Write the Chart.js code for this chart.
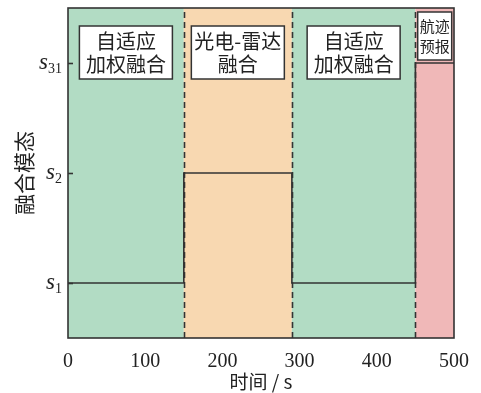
<!DOCTYPE html>
<html>
<head>
<meta charset="utf-8">
<script src="https://cdn.jsdelivr.net/npm/chart.js@4/dist/chart.umd.min.js"></script>
<style>
  html, body { margin: 0; padding: 0; background: #fff; }
  #wrap { width: 481px; height: 393px; }
</style>
</head>
<body>
<div id="wrap"><canvas id="myChart"></canvas></div>
<script>
// step data: mode held from each time until the next one
var times = [0, 150, 290, 450, 500];
var modes = [1, 2, 1, 3, 3];

// y ticks: value and subscript of s
var modeTicks = [1, 2, 3];
var modeSubs = ['1', '2', '31'];

// phases of the run
var phaseStart = [0, 150, 290, 450];
var phaseEnd = [150, 290, 450, 500];
var phaseLines = [
	['自适应', '加权融合'],
	['光电-雷达', '融合'],
	['自适应', '加权融合'],
	['航迹', '预报']
];
var phaseColors = ['#b2dcc4', '#f8d8b1', '#b2dcc4', '#f0b8b8'];

var serif = '"Liberation Serif", "DejaVu Serif", serif';
var cjk = '"Noto Sans CJK SC", sans-serif';

var phasePlugin = {
	id: 'phases',
	beforeDatasetsDraw: function(chart) {
		var ctx = chart.ctx, xs = chart.scales.x, a = chart.chartArea;
		ctx.save();
		for (var i = 0; i < phaseStart.length; i++) {
			var x0 = xs.getPixelForValue(phaseStart[i]);
			var x1 = xs.getPixelForValue(phaseEnd[i]);
			ctx.fillStyle = phaseColors[i];
			ctx.fillRect(x0, a.top, x1 - x0, a.bottom - a.top);
		}
		// dashed boundaries
		ctx.strokeStyle = '#333';
		ctx.lineWidth = 1.6;
		ctx.setLineDash([6, 4]);
		for (var j = 1; j < phaseStart.length; j++) {
			var x = Math.round(xs.getPixelForValue(phaseStart[j])) + 0.5;
			ctx.beginPath();
			ctx.moveTo(x, a.bottom);
			ctx.lineTo(x, a.top);
			ctx.stroke();
		}
		ctx.restore();
	},
	afterDatasetsDraw: function(chart) {
		var ctx = chart.ctx, xs = chart.scales.x;
		ctx.save();
		for (var i = 0; i < phaseStart.length; i++) {
			var cx = (xs.getPixelForValue(phaseStart[i]) + xs.getPixelForValue(phaseEnd[i])) / 2;
			var small = i == 3;
			var w = small ? 34 : 93;
			var h = small ? 48 : 53;
			var top = small ? 12 : 26;
			var fs = small ? 15 : 20;
			ctx.fillStyle = '#fff';
			ctx.fillRect(cx - w / 2, top, w, h);
			ctx.strokeStyle = '#333';
			ctx.lineWidth = 1.5;
			ctx.strokeRect(cx - w / 2, top, w, h);
			ctx.fillStyle = '#222';
			ctx.font = fs + 'px ' + cjk;
			ctx.textAlign = 'center';
			ctx.textBaseline = 'middle';
			var lh = small ? 20 : 23;
			var l = phaseLines[i];
			ctx.fillText(l[0], cx, top + h / 2 - lh / 2);
			ctx.fillText(l[1], cx, top + h / 2 + lh / 2);
		}
		ctx.restore();
	},
	afterDraw: function(chart) {
		var ctx = chart.ctx, ys = chart.scales.y, a = chart.chartArea;
		ctx.save();
		ctx.strokeStyle = '#333';
		ctx.lineWidth = 1.6;
		ctx.strokeRect(a.left, a.top, a.right - a.left, a.bottom - a.top);
		// y ticks (inward) and s labels with subscripts
		for (var i = 0; i < modeTicks.length; i++) {
			var y = Math.round(ys.getPixelForValue(modeTicks[i])) + 0.5;
			ctx.beginPath();
			ctx.moveTo(a.left, y);
			ctx.lineTo(a.left + 5, y);
			ctx.stroke();
			ctx.fillStyle = '#222';
			ctx.textBaseline = 'alphabetic';
			ctx.textAlign = 'right';
			ctx.font = '14px ' + serif;
			var right = a.left - 6;
			ctx.fillText(modeSubs[i], right, y + 9);
			var sw = ctx.measureText(modeSubs[i]).width;
			ctx.font = 'italic 23px ' + serif;
			ctx.fillText('s', right - sw, y + 5);
		}
		ctx.restore();
	}
};

function crearGrafica() {
	var ctx = document.getElementById('myChart').getContext('2d');
	var pts = times.map(function(t, i) { return { x: t, y: modes[i] }; });
	new Chart(ctx, {
		type: 'line',
		data: {
			datasets: [{
				data: pts,
				stepped: 'before',
				borderColor: '#333',
				borderWidth: 1.6,
				pointRadius: 0,
				fill: false
			}]
		},
		options: {
			responsive: true,
			maintainAspectRatio: false,
			animation: false,
			layout: { padding: { top: 8, right: 27, left: 0, bottom: 0 } },
			plugins: { legend: { display: false }, tooltip: { enabled: false } },
			scales: {
				x: {
					type: 'linear',
					min: 0,
					max: 500,
					ticks: {
						stepSize: 100,
						color: '#222',
						font: { family: serif, size: 20 },
						padding: 4,
						maxRotation: 0
					},
					grid: { display: false },
					border: { display: false },
					title: {
						display: true,
						text: '时间 / s',
						color: '#222',
						font: { family: cjk, size: 19 },
						padding: { top: 0, bottom: 0 }
					},
					afterFit: function(s) { s.height = 55; }
				},
				y: {
					min: 0.5,
					max: 3.5,
					ticks: { display: false, stepSize: 1 },
					grid: { display: false },
					border: { display: false },
					title: {
						display: true,
						text: '融合模态',
						color: '#222',
						font: { family: cjk, size: 21 },
						padding: { top: 11, bottom: 0 }
					},
					afterFit: function(s) { s.width = 68; }
				}
			}
		},
		plugins: [phasePlugin]
	});
}

window.addEventListener('load', crearGrafica);
</script>
</body>
</html>
